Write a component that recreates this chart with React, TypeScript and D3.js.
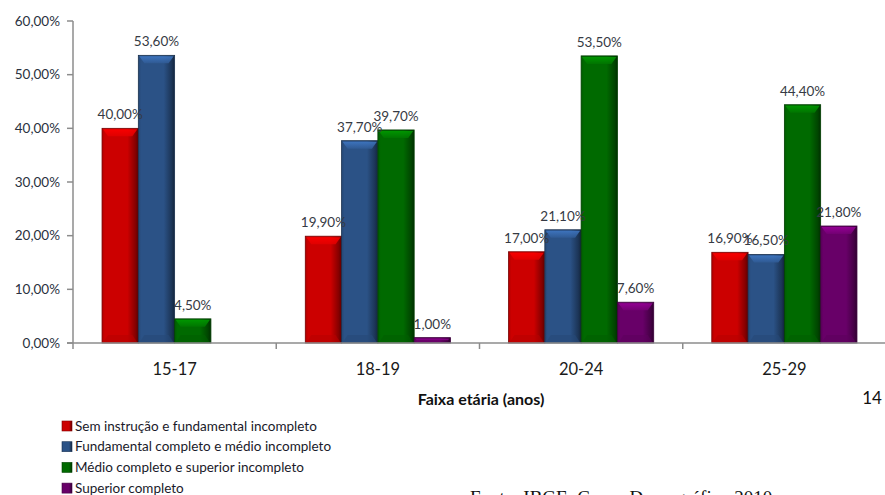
import * as d3 from 'd3';

const categories = ['15-17', '18-19', '20-24', '25-29'];
const seriesNames = [
  'Sem instrução e fundamental incompleto',
  'Fundamental completo e médio incompleto',
  'Médio completo e superior incompleto',
  'Superior completo',
];
const seriesColors = ['#cc0000', '#2b5286', '#006a00', '#680068'];
// one array per series, values in %, same order as categories
const semInstrucao = [40.0, 19.9, 17.0, 16.9];
const fundamental = [53.6, 37.7, 21.1, 16.5];
const medio = [4.5, 39.7, 53.5, 44.4];
const superior = [null, 1.0, 7.6, 21.8];
const seriesValues = [semInstrucao, fundamental, medio, superior];
const yTicks = [0, 10, 20, 30, 40, 50, 60];

const W = 885;
const H = 495;
const left = 73;
const right = 886;
const top = 21;
const bottom = 343;
const font = 'Lato, "Open Sans", sans-serif';

const fmt = (v: number) => v.toFixed(2).replace('.', ',') + '%';

export default function App() {
  const x = d3.scaleBand<string>().domain(categories).range([left, right]).paddingInner(0).paddingOuter(0);
  const xs = d3
    .scaleBand<number>()
    .domain(d3.range(seriesNames.length))
    .range([0, x.bandwidth()])
    .paddingOuter(0.8)
    .paddingInner(0);
  const y = d3.scaleLinear().domain([0, 60]).range([bottom, top]);

  const bars = categories.flatMap((c, ci) =>
    seriesValues.map((vals, si) => ({ c, ci, si, v: vals[ci] as number | null }))
  ).filter((d) => d.v != null);

  const lighter = (c: string, k: number) => d3.color(c)!.brighter(k).formatHex();
  const darker = (c: string, k: number) => d3.color(c)!.darker(k).formatHex();

  return (
    <svg width={W} height={H} style={{ position: 'absolute', left: 0, top: 0, background: '#fff' }}>
      <defs>
        {seriesColors.map((c, i) => (
          <linearGradient key={i} id={`g${i}`} x1="0" x2="1" y1="0" y2="0">
            <stop offset="0" stopColor={darker(c, 0.4)} />
            <stop offset="0.08" stopColor={c} />
            <stop offset="0.7" stopColor={c} />
            <stop offset="0.92" stopColor={darker(c, 1.2)} />
            <stop offset="1" stopColor={darker(c, 2.2)} />
          </linearGradient>
        ))}
        {seriesColors.map((c, i) => (
          <linearGradient key={'t' + i} id={`t${i}`} x1="0" x2="0" y1="0" y2="1">
            <stop offset="0" stopColor={lighter(c, 1.1)} />
            <stop offset="1" stopColor={lighter(c, 0.3)} />
          </linearGradient>
        ))}
      </defs>

      {/* y axis */}
      <line x1={left} x2={left} y1={top} y2={bottom} stroke="#8c8c8c" strokeWidth={1.5} />
      {yTicks.map((t) => (
        <g key={t}>
          <line x1={left - 6} x2={left} y1={y(t)} y2={y(t)} stroke="#8c8c8c" strokeWidth={1.5} />
          <text
            x={60}
            y={y(t)}
            dy="0.35em"
            textAnchor="end"
            fontFamily={font}
            fontSize={13.5}
            fill="#2a3140"
          >
            {fmt(t)}
          </text>
        </g>
      ))}

      {/* bars */}
      {bars.map((d) => {
        const bx = (x(d.c) as number) + (xs(d.si) as number);
        const bw = xs.bandwidth();
        const by = y(d.v as number);
        const bh = bottom - by;
        const c = seriesColors[d.si];
        const bev = Math.min(8, bh / 2);
        const inset = Math.min(6, bev);
        return (
          <g key={`${d.ci}-${d.si}`}>
            <rect x={bx} y={by} width={bw} height={bh} fill={`url(#g${d.si})`} stroke={darker(c, 1.5)} strokeWidth={0.8} />
            <polygon
              points={`${bx + 1},${by + 1} ${bx + bw - 1},${by + 1} ${bx + bw - inset},${by + bev} ${bx + inset},${by + bev}`}
              fill={`url(#t${d.si})`}
              opacity={0.85}
            />
            {bh > 16 && (
              <polygon
                points={`${bx + inset},${bottom - bev} ${bx + bw - inset},${bottom - bev} ${bx + bw - 1},${bottom - 0.5} ${bx + 1},${bottom - 0.5}`}
                fill={darker(c, 0.3)}
                opacity={0.6}
              />
            )}
          </g>
        );
      })}

      {/* data labels */}
      {bars.map((d) => (
        <text
          key={`l${d.ci}-${d.si}`}
          x={(x(d.c) as number) + (xs(d.si) as number) + xs.bandwidth() / 2}
          y={y(d.v as number) - 9}
          textAnchor="middle"
          fontFamily={font}
          fontSize={13.5}
          fill="#363a44"
        >
          {fmt(d.v as number)}
        </text>
      ))}

      {/* x axis */}
      <line x1={left - 6} x2={right} y1={bottom} y2={bottom} stroke="#8c8c8c" strokeWidth={1.5} />
      {categories.map((c) => (
        <g key={c}>
          <line x1={x(c)} x2={x(c)} y1={bottom} y2={bottom + 6} stroke="#8c8c8c" strokeWidth={1.5} />
          <text
            x={(x(c) as number) + x.bandwidth() / 2}
            y={375}
            textAnchor="middle"
            fontFamily={font}
            fontSize={16.5}
            fill="#1a1a1a"
          >
            {c}
          </text>
        </g>
      ))}

      <text x={481} y={405} textAnchor="middle" fontFamily={font} fontSize={16} fontWeight="bold" fill="#111">
        Faixa etária (anos)
      </text>
      <text x={872} y={404} textAnchor="middle" fontFamily={font} fontSize={17} fill="#111">
        14
      </text>

      {/* legend */}
      {seriesNames.map((n, i) => {
        const cy = 426 + i * 20.7;
        return (
          <g key={n}>
            <rect x={62} y={cy - 5} width={10} height={10} fill={`url(#g${i})`} stroke={darker(seriesColors[i], 1.2)} strokeWidth={0.6} />
            <text x={75} y={cy} dy="0.35em" fontFamily={font} fontSize={13.5} fill="#1a1a2a">
              {n}
            </text>
          </g>
        );
      })}

      <text x={470} y={504} fontFamily='"Liberation Serif", "DejaVu Serif", serif' fontSize={19} fill="#111">
        Fonte: IBGE, Censo Demográfico 2010
      </text>
    </svg>
  );
}
